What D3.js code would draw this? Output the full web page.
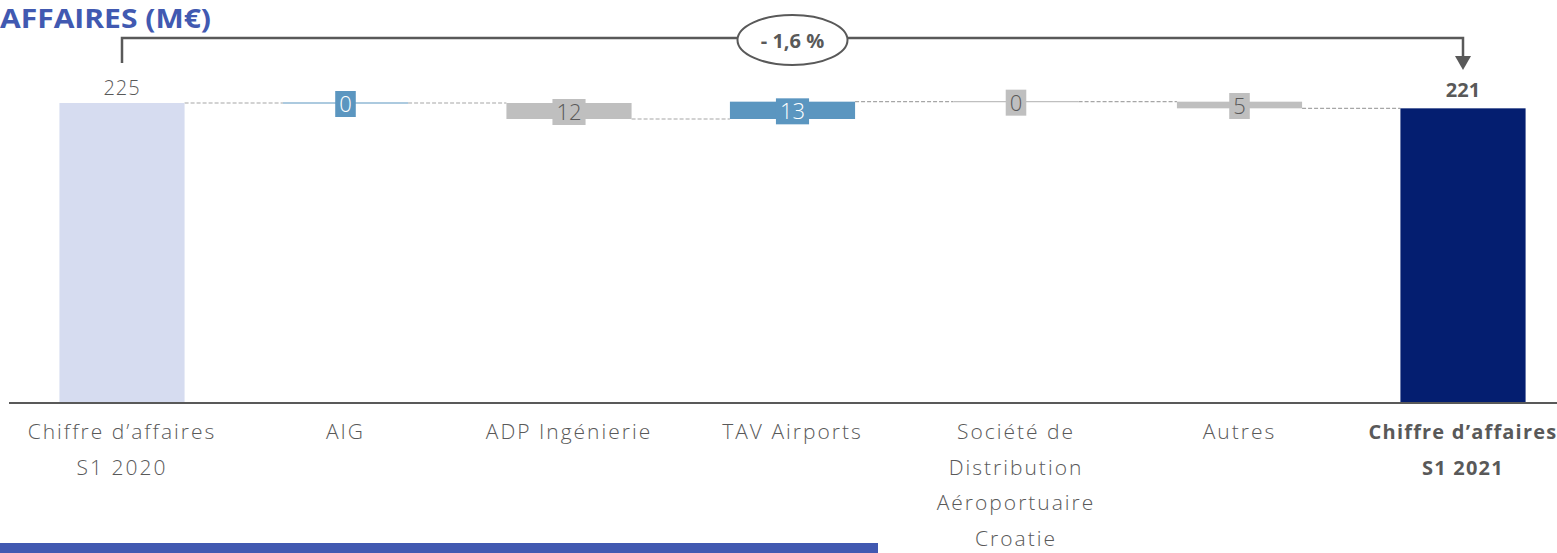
<!DOCTYPE html>
<html><head><meta charset="utf-8">
<script src="https://cdn.jsdelivr.net/npm/d3@7"></script>
<style>body{margin:0;background:#fff;} svg{display:block;}</style>
</head><body>
<svg id="c" width="1557" height="553"></svg>
<script>
const categories = [["Chiffre d’affaires","S1 2020"],["AIG"],["ADP Ingénierie"],["TAV Airports"],["Société de","Distribution","Aéroportuaire","Croatie"],["Autres"],["Chiffre d’affaires","S1 2021"]];
const types = ["total","delta","delta","delta","delta","delta","total"];
const values = [225, 0, -12, 13, 0, -5, 221];
const labels = ["225","0","12","13","0","5","221"];
const variationLabel = "- 1,6 %";
const title = "AFFAIRES (M€)";

const svg = d3.select("#c");
const FONT = "'Open Sans', Lato, sans-serif";
const grey = "#595959";
const x = d3.scaleBand().domain(d3.range(categories.length)).range([10.25, 1574.75]).paddingInner(0.44).paddingOuter(0.22);
const y = d3.scaleLinear().domain([0, 225]).range([403, 103]);

let run = 0;
const bars = values.map((v,i)=>{
  let y0,y1;
  if(types[i]==="total"){ y0=0; y1=v; run=v; }
  else { y0=run; y1=run+v; run=y1; }
  return {i,v,y0,y1,type:types[i]};
});
const colorOf = d => d.type==="total" ? (d.i===0 ? "#D6DCF0" : "#041E70") : (d.v>0 ? "#5B96C0" : (d.v<0 ? "#BFBFBF" : (d.i===1?"#5B96C0":"#BFBFBF")));

for(let k=0;k<bars.length-1;k++){
  const lv = bars[k].y1;
  svg.append("line").attr("x1",x(k)+x.bandwidth()).attr("x2",x(k+1))
    .attr("y1",y(lv)).attr("y2",y(lv)).attr("stroke","#A6A6A6").attr("stroke-width",1.2).attr("stroke-dasharray","4,2");
}

bars.forEach(d=>{
  const top = y(Math.max(d.y0,d.y1)), bot = y(Math.min(d.y0,d.y1));
  if(d.v===0 && d.type!=="total"){
    svg.append("line").attr("x1",x(d.i)).attr("x2",x(d.i)+x.bandwidth()).attr("y1",top).attr("y2",top)
      .attr("stroke",colorOf(d)).attr("stroke-width",1.2);
  } else {
    svg.append("rect").attr("x",x(d.i)).attr("width",x.bandwidth()).attr("y",top).attr("height",Math.max(1,bot-top)).attr("fill",colorOf(d));
  }
});

bars.forEach(d=>{
  const cx = x(d.i)+x.bandwidth()/2;
  if(d.type==="total"){
    svg.append("text").attr("x",cx).attr("y",y(d.y1)-(d.i===0?8:11)).attr("text-anchor","middle")
      .attr("font-family",FONT).attr("font-size",20).attr("font-weight",d.i===0?300:700).attr("fill",grey)
      .attr("letter-spacing",d.i===0?1:0).text(labels[d.i]);
  } else {
    const cy = (y(d.y0)+y(d.y1))/2 + 1;
    const g = svg.append("g");
    const t = g.append("text").attr("x",cx).attr("y",cy).attr("dy","0.36em").attr("text-anchor","middle")
      .attr("font-family",FONT).attr("font-size",22).attr("font-weight",300)
      .attr("fill", colorOf(d)==="#5B96C0" ? "#fff" : grey).text(labels[d.i]);
    const bb = t.node().getBBox();
    g.insert("rect","text").attr("x",cx-bb.width/2-4).attr("width",bb.width+8).attr("y",cy-13).attr("height",26).attr("fill",colorOf(d));
  }
});

const axis = svg.append("g").attr("transform","translate(0,403)").call(d3.axisBottom(x).tickSize(0).tickFormat(""));
axis.select(".domain").attr("d","M9,0H1557").attr("stroke",grey).attr("stroke-width",2);
categories.forEach((lines,i)=>{
  const bold = i===categories.length-1;
  const t = svg.append("text").attr("text-anchor","middle").attr("font-family",FONT).attr("font-size",bold?20:21)
    .attr("font-weight", bold ? 700 : 300).attr("fill",grey).attr("letter-spacing",bold?1.2:2);
  lines.forEach((l,j)=>t.append("tspan").attr("x",x(i)+x.bandwidth()/2).attr("y",439+j*35.7).text(l));
});

const xa = x(0)+x.bandwidth()/2, xb = x(6)+x.bandwidth()/2;
svg.append("path").attr("d",`M${xa},63V38H${xb}V58`).attr("fill","none").attr("stroke",grey).attr("stroke-width",2.5);
svg.append("path").attr("d",`M${xb-8},56L${xb+8},56L${xb},70Z`).attr("fill",grey);
const ex = (xa+xb)/2;
svg.append("ellipse").attr("cx",ex).attr("cy",40).attr("rx",55).attr("ry",25).attr("fill","#fff").attr("stroke",grey).attr("stroke-width",2);
svg.append("text").attr("x",ex).attr("y",48).attr("text-anchor","middle").attr("font-family",FONT).attr("font-size",20).attr("font-weight",700).attr("fill",grey).text(variationLabel);

svg.append("text").attr("x",0).attr("y",28).attr("text-anchor","start").attr("font-family",FONT).attr("font-size",27).attr("font-weight",700).attr("fill","#4159B1")
  .attr("textLength",211).attr("lengthAdjust","spacingAndGlyphs").text(title);

svg.append("rect").attr("x",0).attr("y",543).attr("width",878).attr("height",10).attr("fill","#4159B1");
</script>
</body></html>
